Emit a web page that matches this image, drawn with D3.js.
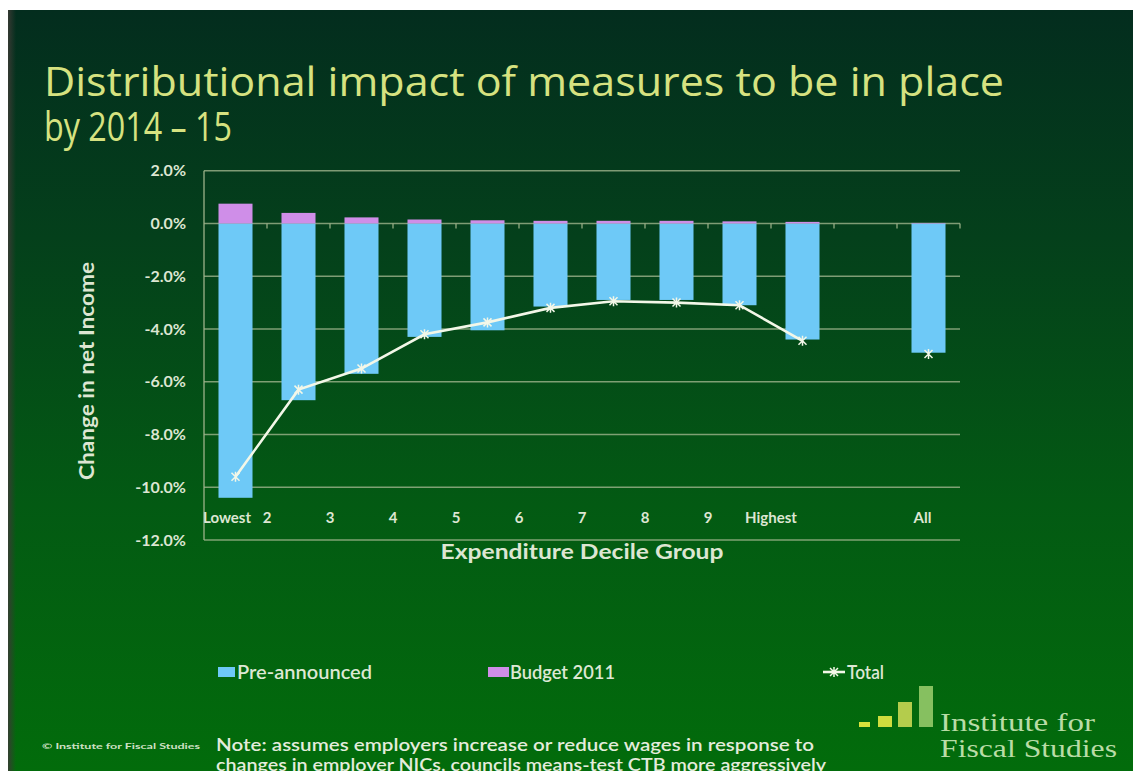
<!DOCTYPE html>
<html>
<head>
<meta charset="utf-8">
<script src="https://cdn.jsdelivr.net/npm/d3@7"></script>
<style>
  html, body { margin: 0; padding: 0; background: #ffffff; }
  svg { display: block; }
</style>
</head>
<body>
<svg id="chart" width="1133" height="771"></svg>
<script>
// ---- Data ----
const categories = ["Lowest", "2", "3", "4", "5", "6", "7", "8", "9", "Highest", "", "All"];
const preAnnounced = [-10.4, -6.7, -5.7, -4.3, -4.05, -3.15, -2.9, -2.9, -3.1, -4.4, null, -4.9];
const budget2011 = [0.75, 0.4, 0.23, 0.15, 0.12, 0.1, 0.1, 0.1, 0.08, 0.06, null, 0.02];
const total = [-9.6, -6.3, -5.5, -4.2, -3.75, -3.2, -2.95, -3.0, -3.1, -4.45, null, -4.95];
const yTicks = [2, 0, -2, -4, -6, -8, -10, -12];
const seriesNames = ["Pre-announced", "Budget 2011", "Total"];
const titleLines = ["Distributional impact of measures to be in place", "by 2014 \u2013 15"];
const noteLines = ["Note: assumes employers increase or reduce wages in response to",
                   "changes in employer NICs, councils means-test CTB more aggressively"];

// ---- Setup ----
const svg = d3.select("#chart");
const W = 1133, H = 771;
const font = "Lato, 'Open Sans', sans-serif";
const textCol = "#dde6d2";

const defs = svg.append("defs");
const bg = defs.append("linearGradient").attr("id", "bg").attr("x1", 0).attr("y1", 0).attr("x2", 0).attr("y2", 1);
bg.append("stop").attr("offset", "0%").attr("stop-color", "#032d1e");
bg.append("stop").attr("offset", "30%").attr("stop-color", "#04401b");
bg.append("stop").attr("offset", "65%").attr("stop-color", "#035a13");
bg.append("stop").attr("offset", "100%").attr("stop-color", "#026c0b");
const edge = defs.append("linearGradient").attr("id", "edge").attr("x1", 0).attr("y1", 0).attr("x2", 1).attr("y2", 0);
edge.append("stop").attr("offset", "0%").attr("stop-color", "#3a3a34").attr("stop-opacity", 0.9);
edge.append("stop").attr("offset", "100%").attr("stop-color", "#3a3a34").attr("stop-opacity", 0);

svg.append("rect").attr("x", 8).attr("y", 10).attr("width", W - 8).attr("height", H - 10).attr("fill", "url(#bg)");
svg.append("rect").attr("x", 8).attr("y", 10).attr("width", 8).attr("height", H - 10).attr("fill", "url(#edge)");

// ---- Title ----
svg.append("text").attr("x", 44).attr("y", 96)
  .attr("font-family", "'Open Sans', sans-serif").attr("font-size", 41)
  .attr("fill", "#d6e280").attr("textLength", 960).attr("lengthAdjust", "spacingAndGlyphs")
  .text(titleLines[0]);
svg.append("text").attr("x", 44).attr("y", 141)
  .attr("font-family", "'Open Sans', sans-serif").attr("font-size", 41)
  .attr("fill", "#d6e280").attr("textLength", 188).attr("lengthAdjust", "spacingAndGlyphs")
  .text(titleLines[1]);

// ---- Scales ----
const x = d3.scaleBand().domain(categories).range([204, 960]).paddingInner(0.46).paddingOuter(0.23);
const y = d3.scaleLinear().domain([-12, 2]).range([540, 170.7]);
const gap = (x.step() - x.bandwidth()) / 2;

const gridColor = "#9fb48c";
svg.append("g").selectAll("line").data(yTicks).join("line")
  .attr("x1", 204).attr("x2", 960)
  .attr("y1", d => y(d)).attr("y2", d => y(d))
  .attr("stroke", gridColor).attr("stroke-width", 1.6).attr("stroke-opacity", 0.8);
svg.append("line").attr("x1", 204).attr("x2", 204).attr("y1", y(2)).attr("y2", y(-12))
  .attr("stroke", gridColor).attr("stroke-width", 1.6).attr("stroke-opacity", 0.8);

// y tick labels
svg.append("g").selectAll("text").data(yTicks).join("text")
  .attr("x", 186).attr("y", d => y(d)).attr("dy", "0.35em")
  .attr("text-anchor", "end").attr("font-family", font).attr("font-weight", "bold")
  .attr("font-size", 16).attr("fill", textCol)
  .text(d => d.toFixed(1) + "%");

// y axis title
svg.append("text").attr("transform", "translate(87,371) rotate(-90)")
  .attr("text-anchor", "middle").attr("dy", "0.35em")
  .attr("font-family", font).attr("font-weight", "bold").attr("font-size", 20)
  .attr("fill", textCol).attr("textLength", 218).attr("lengthAdjust", "spacingAndGlyphs")
  .text("Change in net Income");

// ---- Bars ----
const idx = d3.range(categories.length).filter(i => preAnnounced[i] !== null);
svg.append("g").selectAll("rect").data(idx).join("rect")
  .attr("x", i => x(categories[i])).attr("width", x.bandwidth())
  .attr("y", y(0)).attr("height", i => y(preAnnounced[i]) - y(0))
  .attr("fill", "#6ec9f7");
svg.append("g").selectAll("rect").data(idx).join("rect")
  .attr("x", i => x(categories[i])).attr("width", x.bandwidth())
  .attr("y", i => y(budget2011[i])).attr("height", i => y(0) - y(budget2011[i]))
  .attr("fill", "#cf8ee8");

// category tick marks on the zero line
const bounds = categories.map(c => x(c) - gap).concat([x(categories[categories.length - 1]) + x.bandwidth() + gap]);
svg.append("g").selectAll("line").data(bounds.slice(1)).join("line")
  .attr("x1", d => d).attr("x2", d => d).attr("y1", y(0)).attr("y2", y(0) + 5)
  .attr("stroke", gridColor).attr("stroke-width", 1.2);

// ---- Total line ----
const cx = i => x(categories[i]) + x.bandwidth() / 2;
const line = d3.line().defined(i => total[i] !== null).x(cx).y(i => y(total[i]));
svg.append("path").datum(d3.range(categories.length))
  .attr("d", line).attr("fill", "none").attr("stroke", "#f3f7e8").attr("stroke-width", 2.6);
const mk = 4;
const markerPath = `M${-mk},${-mk}L${mk},${mk}M${-mk},${mk}L${mk},${-mk}M0,${-mk - 1}L0,${mk + 1}`;
svg.append("g").selectAll("path").data(idx).join("path")
  .attr("transform", i => `translate(${cx(i)},${y(total[i])})`)
  .attr("d", markerPath).attr("stroke", "#f3f7e8").attr("stroke-width", 1.5);

// ---- X labels ----
svg.append("g").selectAll("text").data(categories.filter(c => c !== "")).join("text")
  .attr("x", c => c === "Lowest" ? 203 : (c === "All" ? x(c) + x.bandwidth() / 2 - 6 : x(c) - gap))
  .attr("y", 518).attr("dy", "0.35em")
  .attr("text-anchor", c => c === "Lowest" ? "start" : "middle")
  .attr("font-family", font).attr("font-weight", "bold").attr("font-size", 15)
  .attr("fill", textCol).text(c => c);

svg.append("text").attr("x", 582).attr("y", 552).attr("dy", "0.35em")
  .attr("text-anchor", "middle").attr("font-family", font).attr("font-weight", "bold")
  .attr("font-size", 20).attr("fill", textCol)
  .attr("textLength", 283).attr("lengthAdjust", "spacingAndGlyphs")
  .text("Expenditure Decile Group");

// ---- Legend ----
const legendY = 672;
const lg = svg.append("g").attr("font-family", font).attr("font-size", 19).attr("font-weight", 600).attr("fill", "#dde8d4");
lg.append("rect").attr("x", 218).attr("y", legendY - 5).attr("width", 17).attr("height", 10).attr("fill", "#6ec9f7");
lg.append("text").attr("x", 237).attr("y", legendY).attr("dy", "0.35em")
  .attr("textLength", 135).attr("lengthAdjust", "spacingAndGlyphs").text(seriesNames[0]);
lg.append("rect").attr("x", 488).attr("y", legendY - 5).attr("width", 21).attr("height", 10).attr("fill", "#cf8ee8");
lg.append("text").attr("x", 510).attr("y", legendY).attr("dy", "0.35em")
  .attr("textLength", 105).attr("lengthAdjust", "spacingAndGlyphs").text(seriesNames[1]);
lg.append("line").attr("x1", 823).attr("x2", 845).attr("y1", legendY).attr("y2", legendY)
  .attr("stroke", "#f3f7e8").attr("stroke-width", 2.6);
lg.append("path").attr("transform", `translate(834,${legendY})`)
  .attr("d", markerPath).attr("stroke", "#f3f7e8").attr("stroke-width", 1.5);
lg.append("text").attr("x", 847).attr("y", legendY).attr("dy", "0.35em")
  .attr("textLength", 37).attr("lengthAdjust", "spacingAndGlyphs").text(seriesNames[2]);

// ---- Note ----
const noteLen = [598, 610];
svg.append("g").selectAll("text").data(noteLines).join("text")
  .attr("x", 216).attr("y", (d, i) => 745 + i * 20).attr("dy", "0.35em")
  .attr("font-family", font).attr("font-size", 17).attr("font-weight", 600)
  .attr("fill", "#e4ecdc").attr("textLength", (d, i) => noteLen[i]).attr("lengthAdjust", "spacingAndGlyphs")
  .text(d => d);

svg.append("text").attr("x", 42).attr("y", 746).attr("dy", "0.35em")
  .attr("font-family", font).attr("font-size", 8).attr("font-weight", "bold")
  .attr("fill", "#cfe0c4").attr("textLength", 158).attr("lengthAdjust", "spacingAndGlyphs")
  .text("\u00a9 Institute for Fiscal Studies");

// ---- Logo ----
const logoBars = [
  {x: 859, w: 11, top: 722, c: "#d8e23c"},
  {x: 878, w: 14, top: 716, c: "#cfdc3e"},
  {x: 898, w: 14, top: 702, c: "#b4cc4c"},
  {x: 919, w: 14, top: 686, c: "#86c060"}
];
svg.append("g").selectAll("rect").data(logoBars).join("rect")
  .attr("x", d => d.x).attr("y", d => d.top).attr("width", d => d.w).attr("height", d => 727 - d.top)
  .attr("fill", d => d.c);
const serif = "'Liberation Serif', 'DejaVu Serif', serif";
svg.append("text").attr("x", 940).attr("y", 731)
  .attr("font-family", serif).attr("font-size", 25).attr("fill", "#b9dca6")
  .attr("textLength", 155).attr("lengthAdjust", "spacingAndGlyphs").text("Institute for");
svg.append("text").attr("x", 940).attr("y", 757)
  .attr("font-family", serif).attr("font-size", 25).attr("fill", "#b9dca6")
  .attr("textLength", 177).attr("lengthAdjust", "spacingAndGlyphs").text("Fiscal Studies");
</script>
</body>
</html>
